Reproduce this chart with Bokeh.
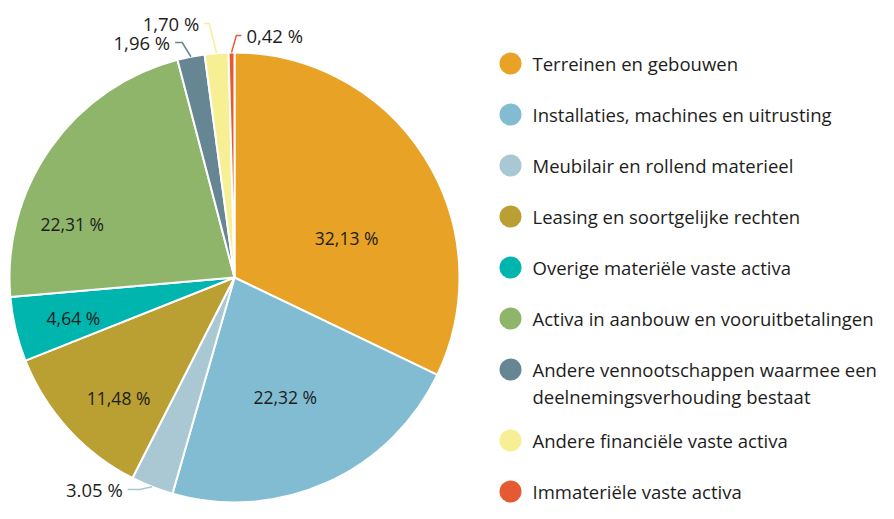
import math
import numpy as np
from bokeh.plotting import figure
from bokeh.models import ColumnDataSource, Range1d
from bokeh.core.properties import value
from bokeh.embed import file_html
from bokeh.resources import INLINE

# ---- data -------------------------------------------------------------
categories = [
    "Terreinen en gebouwen",
    "Installaties, machines en uitrusting",
    "Meubilair en rollend materieel",
    "Leasing en soortgelijke rechten",
    "Overige materiële vaste activa",
    "Activa in aanbouw en vooruitbetalingen",
    "Andere vennootschappen waarmee een\ndeelnemingsverhouding bestaat",
    "Andere financiële vaste activa",
    "Immateriële vaste activa",
]
shares = [32.13, 22.32, 3.05, 11.48, 4.64, 22.31, 1.96, 1.70, 0.42]
share_labels = ["32,13 %", "22,32 %", "3.05 %", "11,48 %", "4,64 %",
                "22,31 %", "1,96 %", "1,70 %", "0,42 %"]
colors = ["#E8A225", "#82BCD3", "#A9C8D3", "#BA9F32", "#00B5AE",
          "#8FB56B", "#668693", "#F6EF93", "#E55A33"]

# ---- layout ------------------------------------------------------------
W, H = 878, 503
CX, CYS, R = 234, 277, 225          # centre in screen px (y down)
CY = H - CYS
FONT = "Open Sans"
TXT = "#1d1d1b"

p = figure(width=W, height=H, output_backend="svg", toolbar_location=None,
           x_range=Range1d(0, W), y_range=Range1d(0, H),
           x_axis_type=None, y_axis_type=None, min_border=0,
           outline_line_color=None)
p.grid.visible = False
p.background_fill_color = "white"
p.border_fill_color = "white"

total = float(sum(shares))
cum = np.concatenate([[0.0], np.cumsum(shares)]) / total
f0, f1 = cum[:-1], cum[1:]
mid = (f0 + f1) / 2.0 * 360.0  # degrees clockwise from top

src = ColumnDataSource(dict(
    start=np.pi / 2 - 2 * np.pi * f1,
    end=np.pi / 2 - 2 * np.pi * f0,
    color=colors,
))
p.wedge(x=CX, y=CY, radius=R, start_angle="start", end_angle="end",
        fill_color="color", line_color="white", line_width=2, source=src)


def polar(theta_deg, rho):
    t = math.radians(theta_deg)
    return CX + rho * math.sin(t), CY + rho * math.cos(t)


# inside labels: (angle offset deg, radius px)
inside = {0: (12.6, 119), 1: (1.2, 130), 3: (-3.7, 167), 4: (-0.6, 166),
          5: (-16.8, 171)}
ix, iy, it = [], [], []
for i, (dth, rho) in inside.items():
    x, y = polar(mid[i] + dth, rho)
    ix.append(x); iy.append(y); it.append(share_labels[i])
p.text(x=ix, y=iy, text=it, text_align="center", text_baseline="middle",
       text_font=value(FONT), text_font_size="17.5px", text_color=TXT)

# outside labels: (radial factor, angle offset, horizontal run)
outside = {2: (1.032, 2.6, -12), 6: (1.07, -1.4, -7), 7: (1.134, -1.1, -5),
           8: (1.076, 1.2, 5)}
lx, ly, lc = [], [], []
for i, (k, dth, run) in outside.items():
    x0, y0 = polar(mid[i], R)
    x1, y1 = polar(mid[i] + dth, R * k)
    x2 = x1 + run
    lx.append([x0, x1, x2]); ly.append([y0, y1, y1]); lc.append(colors[i])
    gap = 5 if run > 0 else -5
    p.text(x=[x2 + gap], y=[y1], text=[share_labels[i]],
           text_align="left" if run > 0 else "right", text_baseline="middle",
           text_font=value(FONT), text_font_size="18.5px", text_color=TXT)
p.multi_line(xs=lx, ys=ly, line_color=lc, line_width=1.5)

# ---- legend --------------------------------------------------------------
LX = 510
row_y = []
y = H - 63
for i, name in enumerate(categories):
    row_y.append(y)
    nlines = name.count("\n") + 1
    y -= 51 + 20 * (nlines - 1)

p.scatter(x=[LX] * len(categories), y=row_y, size=22, marker="circle",
          fill_color=colors, line_color=None)
tx, ty, tt = [], [], []
for name, yy in zip(categories, row_y):
    for j, line in enumerate(name.split("\n")):
        tx.append(LX + 22); ty.append(yy - 27 * j); tt.append(line)
p.text(x=tx, y=ty, text=tt, text_align="left", text_baseline="middle",
       text_font=value(FONT), text_font_size="18.5px", text_color=TXT)

open("out.html", "w").write(file_html(p, INLINE))
